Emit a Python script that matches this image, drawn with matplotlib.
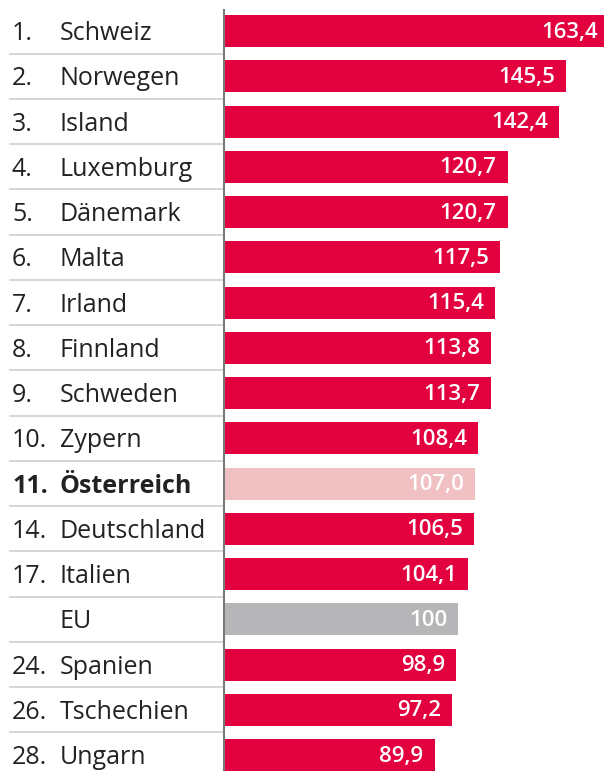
import matplotlib
matplotlib.use("Agg")
import matplotlib.pyplot as plt
import matplotlib.transforms as mtransforms

plt.rcParams['font.family'] = ['Open Sans', 'DejaVu Sans']

ranks = ["1.", "2.", "3.", "4.", "5.", "6.", "7.", "8.", "9.", "10.", "11.", "14.", "17.", "", "24.", "26.", "28."]
countries = ["Schweiz", "Norwegen", "Island", "Luxemburg", "Dänemark", "Malta", "Irland",
             "Finnland", "Schweden", "Zypern", "Österreich", "Deutschland", "Italien", "EU",
             "Spanien", "Tschechien", "Ungarn"]
values = [163.4, 145.5, 142.4, 120.7, 120.7, 117.5, 115.4, 113.8, 113.7, 108.4, 107.0,
          106.5, 104.1, 100, 98.9, 97.2, 89.9]
value_labels = ["163,4", "145,5", "142,4", "120,7", "120,7", "117,5", "115,4", "113,8", "113,7",
                "108,4", "107,0", "106,5", "104,1", "100", "98,9", "97,2", "89,9"]
highlight = "Österreich"
reference = "EU"

W, H = 604, 771
fig = plt.figure(figsize=(W / 100, H / 100), dpi=100)
ax = fig.add_axes([224 / W, 0, 380 / W, 1])

row_h = 45.25
top_c = 31
n = len(values)
y_top = -top_c / row_h
y_bot = (H - top_c) / row_h
ax.set_ylim(y_bot, y_top)
ax.set_xlim(1.05, 161.4)

red = "#E3003F"
pink = "#F0C0C2"
gray = "#B6B6B9"
colors = []
for c in countries:
    if c == highlight:
        colors.append(pink)
    elif c == reference:
        colors.append(gray)
    else:
        colors.append(red)

ypos = list(range(n))
ax.barh(ypos, values, height=32 / row_h, color=colors, left=0)

pad = mtransforms.offset_copy(ax.transData, fig=fig, x=-0.11, y=-0.01, units='inches')
for i, (v, lab) in enumerate(zip(values, value_labels)):
    ax.text(v, i, lab, transform=pad, ha='right', va='center', color='white',
            fontsize=16, fontweight='semibold', clip_on=True)

for s in ["top", "right", "bottom"]:
    ax.spines[s].set_visible(False)
ax.spines["left"].set_color("#7a7a7a")
ax.spines["left"].set_linewidth(1.5)
ax.spines["left"].set_bounds(y_bot, (10 - top_c) / row_h)
ax.set_xticks([])
ax.set_yticks([])
ax.patch.set_alpha(0)

blend = mtransforms.blended_transform_factory(fig.transFigure, ax.transData)
for i in range(n - 1):
    ax.plot([10 / W, 224 / W], [i + 0.5, i + 0.5], transform=blend, color="#d0d0d0",
            lw=1.2, clip_on=False)

tblend = mtransforms.offset_copy(blend, fig=fig, x=0, y=-0.025, units='inches')
for i, (r, c) in enumerate(zip(ranks, countries)):
    w = 'bold' if c == highlight else 'normal'
    ax.text(12 / W, i, r, transform=tblend, ha='left', va='center', fontsize=18,
            color="#222222", fontweight=w, clip_on=False)
    ax.text(60 / W, i, c, transform=tblend, ha='left', va='center', fontsize=18,
            color="#222222", fontweight=w, clip_on=False)

fig.savefig("out.png", dpi=100)
